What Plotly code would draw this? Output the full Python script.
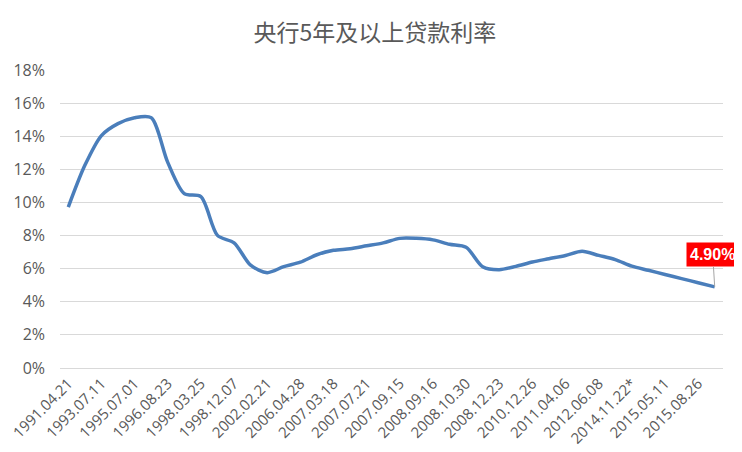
import plotly.graph_objects as go

# 调整日期 (category labels)
dates = [
    '1991.04.21', '1993.05.15', '1993.07.11', '1995.01.01', '1995.07.01',
    '1996.05.01', '1996.08.23', '1997.10.23', '1998.03.25', '1998.07.01',
    '1998.12.07', '1999.06.10', '2002.02.21', '2004.10.29', '2006.04.28',
    '2006.08.19', '2007.03.18', '2007.05.19', '2007.07.21', '2007.08.22',
    '2007.09.15', '2007.12.21', '2008.09.16', '2008.10.09', '2008.10.30',
    '2008.11.27', '2008.12.23', '2010.10.20', '2010.12.26', '2011.02.09',
    '2011.04.06', '2011.07.07', '2012.06.08', '2012.07.06', '2014.11.22*',
    '2015.03.01', '2015.05.11', '2015.06.28', '2015.08.26', '2015.10.24',
]

# 5年以上贷款利率 (%)
rates = [
    9.72, 12.24, 14.04, 14.76, 15.12,
    15.12, 12.42, 10.53, 10.35, 8.01,
    7.56, 6.21, 5.76, 6.12, 6.39,
    6.84, 7.11, 7.20, 7.38, 7.56,
    7.83, 7.83, 7.74, 7.47, 7.29,
    6.12, 5.94, 6.14, 6.40, 6.60,
    6.80, 7.05, 6.80, 6.55, 6.15,
    5.90, 5.65, 5.40, 5.15, 4.90,
]

y_ticks = [0, 2, 4, 6, 8, 10, 12, 14, 16, 18]
y_labels = ['%d%%' % v for v in y_ticks]

text_color = '#595959'
grid_color = '#d9d9d9'
cjk_font = 'Noto Sans CJK SC, Noto Sans, sans-serif'
tick_font = 'Open Sans, Noto Sans, sans-serif'

fig = go.Figure()
fig.add_trace(
    go.Scatter(
        x=dates,
        y=rates,
        mode='lines',
        line=dict(color='#4a7ebb', width=3.5, shape='spline', smoothing=0.8),
        hoverinfo='x+y',
        showlegend=False,
    )
)

fig.add_annotation(
    x=dates[-1],
    y=rates[-1],
    text='<b>%.2f%%</b>' % rates[-1],
    showarrow=True,
    arrowhead=0,
    arrowwidth=1,
    arrowcolor='#a6a6a6',
    ax=-2,
    ay=-32,
    bgcolor='#ff0000',
    borderpad=3,
    font=dict(family='Liberation Sans Narrow, Arial Narrow, Liberation Sans, sans-serif',
              size=16, color='white'),
)

# the page body has an 8px margin, so the figure is sized/offset to match
fig.update_layout(
    title=dict(
        text='央行5年及以上贷款利率',
        x=0.5,
        xanchor='center',
        y=1 - 25 / 444,
        yanchor='middle',
        font=dict(family=cjk_font, size=23, color=text_color),
    ),
    width=734,
    height=444,
    margin=dict(l=52, r=19, t=62, b=84),
    paper_bgcolor='white',
    plot_bgcolor='white',
    font=dict(family=cjk_font, size=14, color=text_color),
    xaxis=dict(
        type='category',
        range=[-0.5, len(dates) - 0.5],
        tickmode='array',
        tickvals=dates[::2],
        ticktext=dates[::2],
        tickangle=-45,
        showgrid=False,
        showline=True,
        linecolor=grid_color,
        ticks='',
        automargin=False,
        tickfont=dict(family=tick_font, size=15, color=text_color),
    ),
    yaxis=dict(
        range=[0, 18],
        tickmode='array',
        tickvals=y_ticks,
        ticktext=y_labels,
        showgrid=True,
        gridcolor=grid_color,
        zeroline=False,
        showline=False,
        ticks='',
        ticklabelstandoff=14,
        automargin=False,
        tickfont=dict(family=tick_font, size=16, color=text_color),
    ),
)

fig.write_html('out.html')
